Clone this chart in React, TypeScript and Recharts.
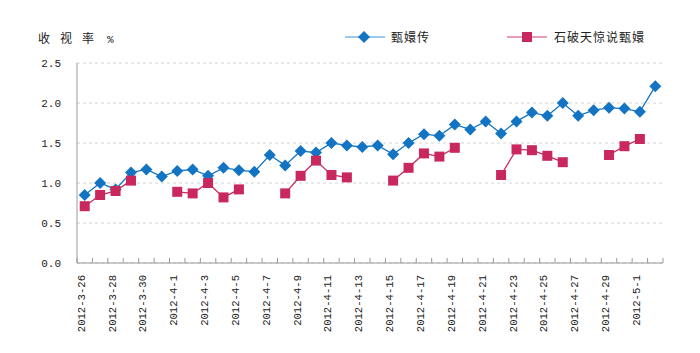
import { CartesianGrid, Line, LineChart, XAxis, YAxis } from "recharts";

const dates = [
  "2012-3-26", "2012-3-27", "2012-3-28", "2012-3-29", "2012-3-30", "2012-3-31",
  "2012-4-1", "2012-4-2", "2012-4-3", "2012-4-4", "2012-4-5", "2012-4-6",
  "2012-4-7", "2012-4-8", "2012-4-9", "2012-4-10", "2012-4-11", "2012-4-12",
  "2012-4-13", "2012-4-14", "2012-4-15", "2012-4-16", "2012-4-17", "2012-4-18",
  "2012-4-19", "2012-4-20", "2012-4-21", "2012-4-22", "2012-4-23", "2012-4-24",
  "2012-4-25", "2012-4-26", "2012-4-27", "2012-4-28", "2012-4-29", "2012-4-30",
  "2012-5-1", "2012-5-2",
];

// 甄嬛传
const zhenhuan = [
  0.85, 1.0, 0.92, 1.13, 1.17, 1.08,
  1.15, 1.17, 1.09, 1.19, 1.16, 1.14,
  1.35, 1.22, 1.4, 1.38, 1.5, 1.47,
  1.45, 1.47, 1.36, 1.5, 1.61, 1.59,
  1.73, 1.67, 1.77, 1.62, 1.77, 1.88,
  1.84, 2.0, 1.84, 1.91, 1.94, 1.93,
  1.89, 2.21,
];

// 石破天惊说甄嬛
const shipo = [
  0.71, 0.85, 0.9, 1.03, null, null,
  0.89, 0.87, 1.0, 0.82, 0.92, null,
  null, 0.87, 1.09, 1.28, 1.1, 1.07,
  null, null, 1.03, 1.19, 1.37, 1.33,
  1.44, null, null, 1.1, 1.42, 1.41,
  1.34, 1.26, null, null, 1.35, 1.46,
  1.55, null,
];

const yTicks = [0, 0.5, 1, 1.5, 2, 2.5];

const BLUE = "#1274c2";
const RED = "#c8285e";
const MONO = "'Liberation Mono', monospace";
const CJK = "'Noto Sans CJK SC', sans-serif";

const PLOT_BOTTOM = 263;

const data = dates.map((d, i) => ({ date: d, a: zhenhuan[i], b: shipo[i] }));

function Diamond(props: any) {
  const { cx, cy, value } = props;
  if (value == null || cx == null) return null;
  const r = 6;
  return (
    <path
      d={`M${cx},${cy - r}L${cx + r},${cy}L${cx},${cy + r}L${cx - r},${cy}Z`}
      fill={BLUE}
    />
  );
}

function Square(props: any) {
  const { cx, cy, value } = props;
  if (value == null || cx == null) return null;
  return <rect x={cx - 5} y={cy - 5} width={10} height={10} fill={RED} />;
}

function XTick(props: any) {
  const { x, payload, index } = props;
  const half = payload?.offset ?? 7.7;
  const last = index === dates.length - 1;
  const ty = PLOT_BOTTOM + 12;
  return (
    <g>
      <line x1={x - half} y1={PLOT_BOTTOM - 5} x2={x - half} y2={PLOT_BOTTOM} stroke="#999" />
      {last && (
        <line x1={x + half} y1={PLOT_BOTTOM - 5} x2={x + half} y2={PLOT_BOTTOM} stroke="#999" />
      )}
      {index % 2 === 0 && (
        <text
          x={x}
          y={ty}
          transform={`rotate(-90, ${x}, ${ty})`}
          textAnchor="end"
          fontFamily={MONO}
          fontSize={10.6}
          fill="#222"
        >
          {payload.value}
        </text>
      )}
    </g>
  );
}

function YTick(props: any) {
  const { y, payload } = props;
  return (
    <text x={61} y={y + 4} textAnchor="end" fontFamily={MONO} fontSize={11} fill="#222">
      {payload.value.toFixed(1)}
    </text>
  );
}

export default function App() {
  return (
    <div style={{ position: "absolute", left: 0, top: 0, width: 700, height: 353, background: "#fff" }}>
      <div
        style={{
          position: "absolute",
          left: 38,
          top: 29,
          fontFamily: CJK,
          fontSize: 12,
          color: "#222",
          letterSpacing: 10,
          whiteSpace: "nowrap",
        }}
      >
        收视率<span style={{ fontFamily: MONO, fontSize: 11, marginLeft: 3 }}>%</span>
      </div>
      <svg style={{ position: "absolute", left: 0, top: 0 }} width={700} height={60}>
        <line x1={345} y1={37} x2={385} y2={37} stroke="#7ab6e4" strokeWidth={1.5} />
        <path d="M364,31L370,37L364,43L358,37Z" fill={BLUE} />
        <text x={391} y={42} fontFamily={CJK} fontSize={12} letterSpacing={1} fill="#222">
          甄嬛传
        </text>
        <line x1={507} y1={37} x2={547} y2={37} stroke="#e27c9c" strokeWidth={1.5} />
        <rect x={522} y={32} width={10} height={10} fill={RED} />
        <text x={554} y={42} fontFamily={CJK} fontSize={12} letterSpacing={1} fill="#222">
          石破天惊说甄嬛
        </text>
      </svg>
      <div style={{ position: "absolute", left: 0, top: 0 }}>
        <LineChart width={700} height={353} data={data} margin={{ top: 63, right: 37, left: 0, bottom: 0 }}>
          <CartesianGrid vertical={false} stroke="#d4d4d4" strokeDasharray="3 3" />
          <XAxis
            dataKey="date"
            scale="band"
            interval={0}
            height={90}
            tickLine={false}
            axisLine={{ stroke: "#999" }}
            tick={<XTick />}
          />
          <YAxis
            width={77}
            domain={[0, 2.5]}
            ticks={yTicks}
            tickLine={false}
            axisLine={{ stroke: "#999" }}
            tick={<YTick />}
          />
          <Line
            dataKey="a"
            stroke={BLUE}
            strokeWidth={1.3}
            dot={<Diamond />}
            activeDot={false}
            isAnimationActive={false}
          />
          <Line
            dataKey="b"
            stroke={RED}
            strokeWidth={1.3}
            dot={<Square />}
            activeDot={false}
            connectNulls={false}
            isAnimationActive={false}
          />
        </LineChart>
      </div>
    </div>
  );
}
